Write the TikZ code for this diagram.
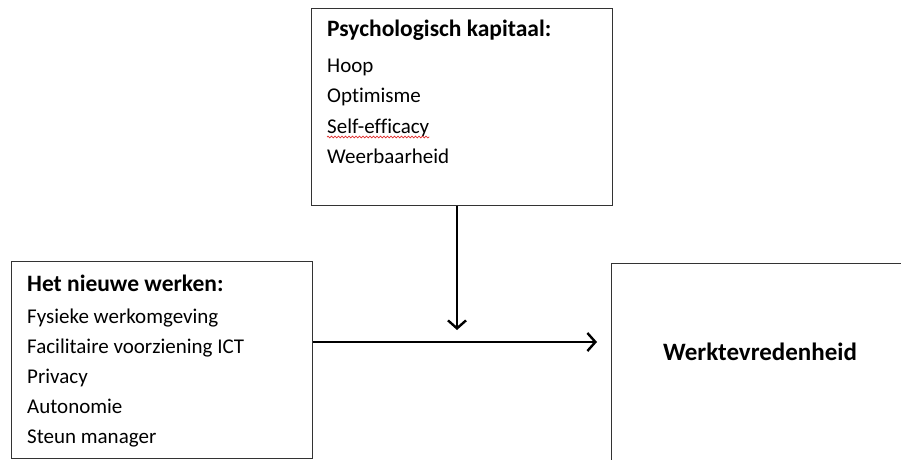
\documentclass[tikz,border=0pt]{standalone}
\usepackage{fontspec}
\setmainfont{Carlito}[Ligatures=NoCommon]
\usetikzlibrary{arrows.meta,positioning,calc,decorations.pathmorphing}

\begin{document}
\begin{tikzpicture}[x=1pt, y=1pt, >={Straight Barb[length=8pt, width=18pt]}]
    % Parameters
    \def\boxW{301}
    \def\boxH{197}
    \def\psyGap{30.5}
    \def\hnwGap{30}

    % Colors
    \definecolor{frameCol}{HTML}{333333}
    \definecolor{spellCol}{HTML}{E03030}

    \tikzset{
        frame/.style={draw=frameCol, line width=1.3pt, minimum width=\boxW pt, minimum height=\boxH pt, inner sep=0pt, anchor=north west},
        title/.style={font=\fontsize{23.5}{27}\selectfont\bfseries, anchor=base west, inner sep=0pt},
        item/.style={font=\fontsize{21}{24}\selectfont, anchor=base west, inner sep=0pt},
        link/.style={->, line width=2.4pt, black},
    }

    \useasboundingbox (0,0) rectangle (901,459);
    \clip (0,0) rectangle (901,459);

    % 1. Boxes
    \node[frame] (psy) at (311,451) {};
    \node[frame] (hnw) at (11,198) {};
    \node[frame, minimum width=330pt, minimum height=230pt] (werk) at (611,196) {};

    % 2. Psychologisch kapitaal
    \node[title] (psyTitle) at (327,422) {Psychologisch kapitaal:};
    \foreach \txt [count=\i] in {Hoop, Optimisme, Self-efficacy, Weerbaarheid} {
        \node[item] (psyItem\i) at (327, {387 - (\i-1)*\psyGap}) {\txt};
    }
    % spell check squiggle
    \draw[spellCol, line width=0.7pt, decorate, decoration={snake, amplitude=0.9pt, segment length=3.5pt}]
        ($(psyItem3.base west)+(0,-4)$) -- ($(psyItem3.base east)+(0,-4)$);

    % 3. Het nieuwe werken
    \node[title] (hnwTitle) at (27,168) {Het nieuwe werken:};
    \foreach \txt [count=\i] in {Fysieke werkomgeving, Facilitaire voorziening ICT, Privacy, Autonomie, Steun manager} {
        \node[item] (hnwItem\i) at (27, {136 - (\i-1)*\hnwGap}) {\txt};
    }

    % 4. Werktevredenheid
    \node[font=\fontsize{25}{29}\selectfont\bfseries, anchor=base, inner sep=0pt] (werkLabel) at (760,99) {Werktevredenheid};

    % 5. Arrows
    \coordinate (hEnd) at (597,117);
    \coordinate (vEnd) at (457,129);
    \draw[link] (hnw.east |- hEnd) -- (hEnd);
    \draw[link] (psy.south -| vEnd) -- (vEnd);
\end{tikzpicture}
\end{document}
